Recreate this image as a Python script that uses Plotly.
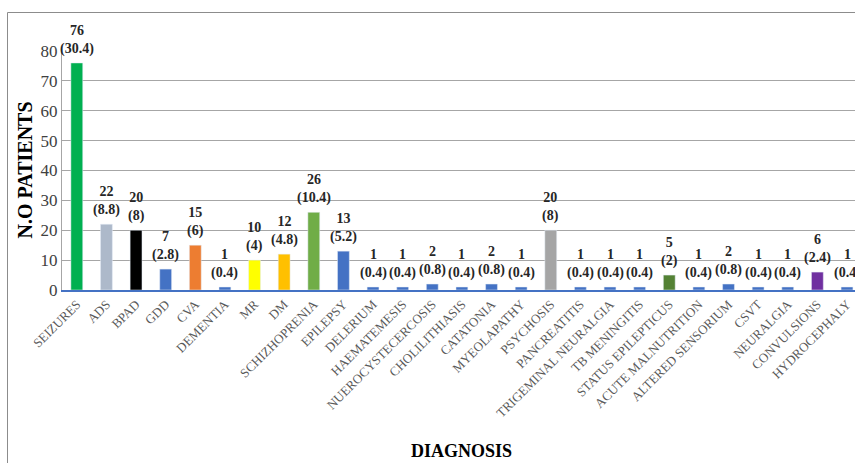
import plotly.graph_objects as go

categories = ["SEIZURES", "ADS", "BPAD", "GDD", "CVA", "DEMENTIA", "MR", "DM",
              "SCHIZHOPRENIA", "EPILEPSY", "DELERIUM", "HAEMATEMESIS",
              "NUEROCYSTECERCOSIS", "CHOLILITHIASIS", "CATATONIA", "MYEOLAPATHY",
              "PSYCHOSIS", "PANCREATITIS", "TRIGEMINAL NEURALGIA", "TB MENINGITIS",
              "STATUS EPILEPTICUS", "ACUTE MALNUTRITION", "ALTERED SENSORIUM",
              "CSVT", "NEURALGIA", "CONVULSIONS", "HYDROCEPHALY"]
patients = [76, 22, 20, 7, 15, 1, 10, 12, 26, 13, 1, 1, 2, 1, 2, 1, 20, 1, 1, 1,
            5, 1, 2, 1, 1, 6, 1]
percent = ["30.4", "8.8", "8", "2.8", "6", "0.4", "4", "4.8", "10.4", "5.2", "0.4",
           "0.4", "0.8", "0.4", "0.8", "0.4", "8", "0.4", "0.4", "0.4", "2", "0.4",
           "0.8", "0.4", "0.4", "2.4", "0.4"]
colors = ["#00B050", "#ADB9CA", "#000000", "#4472C4", "#ED7D31", "#4472C4",
          "#FFFF00", "#FFC000", "#70AD47", "#4472C4", "#4472C4", "#4472C4",
          "#4472C4", "#4472C4", "#4472C4", "#4472C4", "#A5A5A5", "#4472C4",
          "#4472C4", "#4472C4", "#548235", "#4472C4", "#4472C4", "#4472C4",
          "#4472C4", "#7030A0", "#4472C4"]

FONT = "Liberation Serif"
L, T, B = 62, 51, 173
W, H = 855, 463
pw = W - L
ph = H - T - B
xs = list(range(len(categories)))

fig = go.Figure(go.Bar(x=xs, y=patients, marker_color=colors, width=0.4))

for x, v, p in zip(xs, patients, percent):
    fig.add_annotation(x=x, y=v, text=f"<b>{v}<br>({p})</b>", showarrow=False,
                       xanchor="center", yanchor="bottom", yshift=4,
                       font=dict(family=FONT, size=14, color="#262626"))

fig.update_layout(
    width=W, height=H, margin=dict(l=L, r=0, t=T, b=B, autoexpand=False),
    paper_bgcolor="white", plot_bgcolor="white", showlegend=False,
    font=dict(family=FONT),
    xaxis=dict(tickmode="array", tickvals=xs, ticktext=categories,
               tickangle=-45, range=[-0.5, 26.27], automargin=False,
               tickfont=dict(family=FONT, size=13, color="#595959"),
               showline=True, linecolor="#4472C4", linewidth=1.5, ticks="",
               showgrid=False, zeroline=False),
    yaxis=dict(range=[0, 80], dtick=10, showgrid=True, gridcolor="#A6A6A6",
               gridwidth=1, showline=True, linecolor="#A6A6A6", linewidth=1,
               zeroline=False, ticks="", automargin=False,
               tickfont=dict(family=FONT, size=17, color="#404040")),
)

fig.add_annotation(text="<b>N.O PATIENTS</b>", textangle=-90, xref="paper",
                   yref="paper", x=(24 - L) / pw, y=0.5, xanchor="center",
                   yanchor="middle", showarrow=False,
                   font=dict(family=FONT, size=20, color="#000000"))
fig.add_annotation(text="<b>DIAGNOSIS</b>", xref="paper", yref="paper",
                   x=(461 - L) / pw, y=(290 - 451) / ph, xanchor="center",
                   yanchor="middle", showarrow=False,
                   font=dict(family=FONT, size=18, color="#000000"))
fig.add_shape(type="rect", xref="paper", yref="paper",
              x0=(7.5 - L) / pw, x1=1.2, y0=-1.2, y1=(290 - 12.5) / ph,
              line=dict(color="#8C8C8C", width=1), layer="below")

fig.write_html("out.html", config={"displayModeBar": False},
               post_script="document.body.style.margin='0';")
